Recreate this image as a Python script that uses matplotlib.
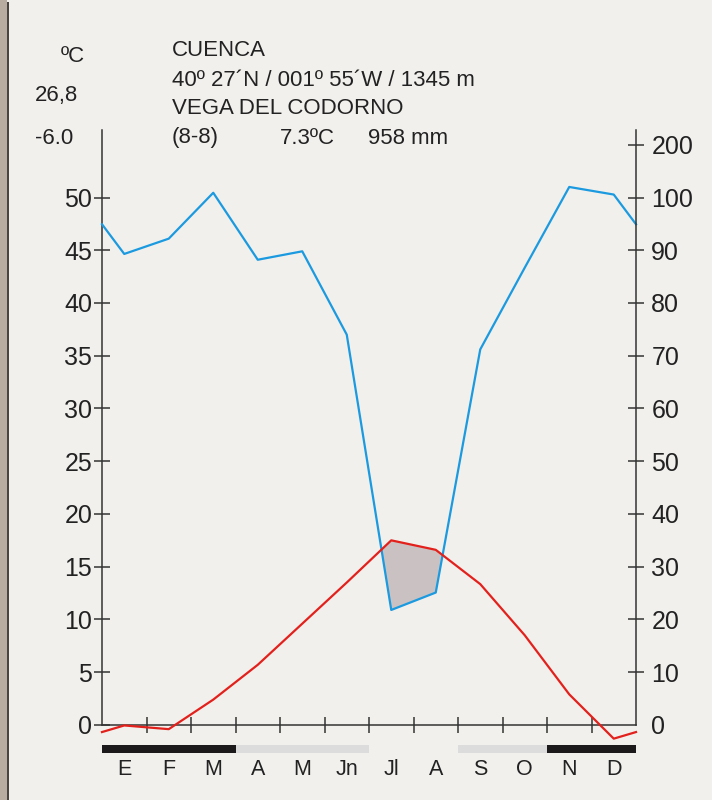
import numpy as np
import matplotlib.pyplot as plt
from matplotlib.patches import Rectangle

plt.rcParams['font.family'] = ['Liberation Sans', 'DejaVu Sans']

# monthly data, Cuenca (Vega del Codorno)
MONTHS = ['E', 'F', 'M', 'A', 'M', 'Jn', 'Jl', 'A', 'S', 'O', 'N', 'D']
TEMP = [-0.05, -0.4, 2.4, 5.7, 9.6, 13.5, 17.5, 16.6, 13.35, 8.5, 2.9, -1.3]
PRECIP = [89.3, 92.2, 109.0, 88.2, 89.8, 74.0, 21.8, 25.1, 71.2, 86.7, 120.0, 105.6]
# frost: 2 = sure, 1 = probable, 0 = none
FROST = [2, 2, 2, 1, 1, 1, 0, 0, 1, 1, 2, 2]

LEFT_TICKS = [0, 5, 10, 15, 20, 25, 30, 35, 40, 45, 50]
RIGHT_LABELS = ['0', '10', '20', '30', '40', '50', '60', '70', '80', '90', '100', '200']

HEADER_LEFT = ['ºC', '26,8', '-6.0']
STATION = ['CUENCA', '40º 27´N / 001º 55´W / 1345 m', 'VEGA DEL CODORNO']
SUMMARY = ['(8-8)', '7.3ºC', '958 mm']

BLUE = '#1b9ae0'
RED = '#e3211c'
INK = '#222222'


def precip_scale(p):
    # Walter-Lieth: 20 mm = 10 ºC below 100 mm, 100 mm = 5 ºC above
    p = np.asarray(p, dtype=float)
    return np.where(p <= 100, p / 2.0, 50 + (p - 100) / 20.0)


def wrap(values):
    v = np.asarray(values, dtype=float)
    edge = (v[0] + v[-1]) / 2.0
    return np.concatenate([[edge], v, [edge]])


W, H = 712, 800
fig = plt.figure(figsize=(W / 100, H / 100), dpi=100)
fig.patch.set_facecolor('#f2f0ed')

# rough frame strip on the left edge
fig.patches.append(Rectangle((0, 0), 7 / W, 1, transform=fig.transFigure,
                             facecolor='#b8aca0', edgecolor='none', zorder=0))
fig.patches.append(Rectangle((7 / W, 0), 1.5 / W, 1 - 2 / H, transform=fig.transFigure,
                             facecolor='#4a4440', edgecolor='none', zorder=0))

ymin, ymax = -6.5, 56.4
ax = fig.add_axes([102 / W, 1 - 793.5 / H, 534 / W, (793.5 - 130) / H])
ax.patch.set_alpha(0)
ax.set_xlim(0, 12)
ax.set_ylim(ymin, ymax)

x = np.concatenate([[0], np.arange(12) + 0.5, [12]])
t = wrap(TEMP)
p = wrap(precip_scale(PRECIP))

ax.fill_between(x, t, p, where=p < t, interpolate=True, facecolor='#cac2c2',
                edgecolor='none', zorder=1)
ax.plot(x, p, color=BLUE, linewidth=1.6, zorder=3, clip_on=False)
ax.plot(x, t, color=RED, linewidth=1.6, zorder=3, clip_on=False)

# frost bars under the axis
frost_colors = {2: '#1c1a1a', 1: '#dcdcdc'}
for i, f in enumerate(FROST):
    if f:
        ax.bar(i + 0.5, 0.75, bottom=-2.65, width=1.0, color=frost_colors[f],
               linewidth=0, zorder=2)

for i, m in enumerate(MONTHS):
    ax.text(i + 0.5, -4.2, m, ha='center', va='center', fontsize=15.5, color=INK)

ax.spines['top'].set_visible(False)
ax.spines['right'].set_visible(False)
ax.spines['bottom'].set_position(('data', 0))
ax.spines['left'].set_bounds(0, ymax)
for s in ['left', 'bottom']:
    ax.spines[s].set_color('#333333')
    ax.spines[s].set_linewidth(1.1)

ax.set_xticks(np.arange(1, 12))
ax.tick_params(axis='x', direction='inout', length=12, width=1.1, color='#333333',
               labelbottom=False)
ax.set_yticks(LEFT_TICKS)
ax.set_yticklabels([str(v) for v in LEFT_TICKS])
ax.tick_params(axis='y', direction='inout', length=12, width=1.1, color='#333333',
               labelsize=18, labelcolor=INK, pad=1)
ax.yaxis.get_major_ticks()[0].tick1line.set_visible(False)

ax2 = ax.twinx()
ax2.set_ylim(ymin, ymax)
for side in ['top', 'left', 'bottom']:
    ax2.spines[side].set_visible(False)
ax2.spines['right'].set_bounds(0, ymax)
ax2.spines['right'].set_color('#333333')
ax2.spines['right'].set_linewidth(1.1)
ax2.set_yticks(LEFT_TICKS + [55])
ax2.set_yticklabels(RIGHT_LABELS)
ax2.tick_params(axis='y', direction='inout', length=12, width=1.1, color='#333333',
                labelsize=18, labelcolor=INK, pad=5)
ax2.yaxis.get_major_ticks()[0].tick2line.set_visible(False)

# header
for txt, (hx, hy) in zip(HEADER_LEFT, [(61, 57), (35, 95), (35, 138)]):
    fig.text(hx / W, 1 - hy / H, txt, ha='left', va='center', fontsize=16, color=INK)
for txt, hy in zip(STATION, [51, 80, 108]):
    fig.text(172 / W, 1 - hy / H, txt, ha='left', va='center', fontsize=16, color=INK)
for txt, hx in zip(SUMMARY, [172, 280, 368]):
    fig.text(hx / W, 1 - 138 / H, txt, ha='left', va='center', fontsize=16, color=INK)

fig.savefig('out.png', dpi=100, facecolor=fig.get_facecolor())
